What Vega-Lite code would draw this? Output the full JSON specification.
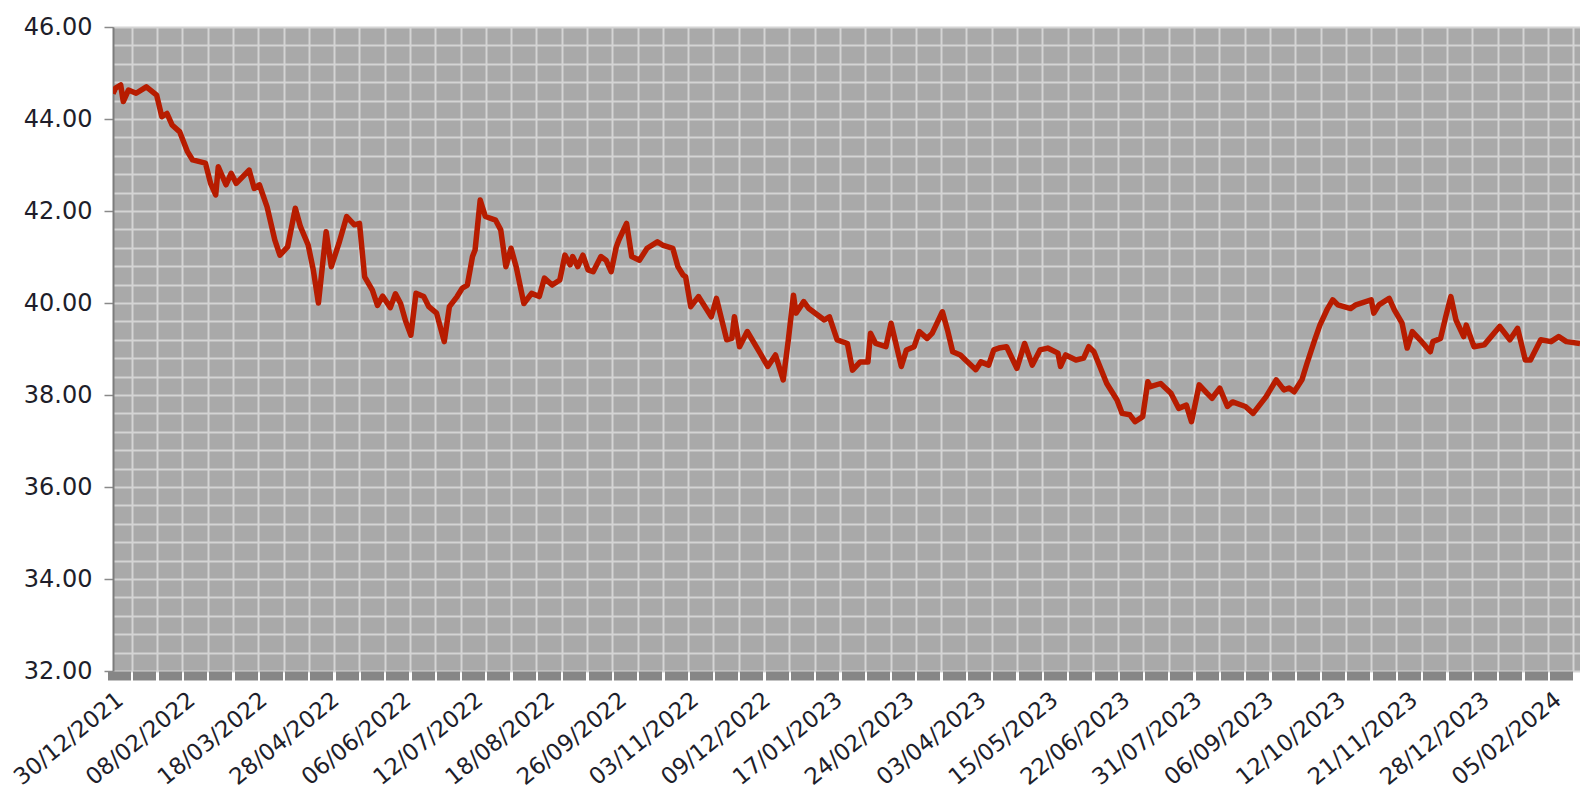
{
  "$schema": "https://vega.github.io/schema/vega-lite/v6.json",
  "width": 1467,
  "height": 644,
  "autosize": {"type": "none"},
  "padding": {"left": 113, "top": 27, "right": 0, "bottom": 124},
  "background": "#ffffff",
  "view": {"fill": "#a9a9a9", "stroke": null},
  "config": {
    "axis": {"labelFont": "DejaVu Sans", "labelFontSize": 24, "labelColor": "#1e1e2a", "title": null}
  },
  "data": {"values": [
    {"i":0,"v":44.55},{"i":1,"v":44.67},{"i":3,"v":44.74},{"i":4,"v":44.38},{"i":6,"v":44.63},{"i":9,"v":44.56},{"i":13,"v":44.7},{"i":17,"v":44.52},{"i":19,"v":44.05},{"i":21,"v":44.12},{"i":23,"v":43.87},{"i":26,"v":43.72},{"i":29,"v":43.29},{"i":31,"v":43.11},{"i":36,"v":43.04},{"i":38,"v":42.6},{"i":40,"v":42.35},{"i":41,"v":42.96},{"i":44,"v":42.57},{"i":46,"v":42.82},{"i":48,"v":42.6},{"i":53,"v":42.89},{"i":55,"v":42.49},{"i":57,"v":42.57},{"i":60,"v":42.09},{"i":63,"v":41.37},{"i":65,"v":41.04},{"i":68,"v":41.22},{"i":71,"v":42.06},{"i":73,"v":41.66},{"i":76,"v":41.26},{"i":78,"v":40.72},{"i":80,"v":40.0},{"i":83,"v":41.55},{"i":85,"v":40.79},{"i":88,"v":41.3},{"i":91,"v":41.88},{"i":94,"v":41.7},{"i":96,"v":41.73},{"i":98,"v":40.57},{"i":101,"v":40.28},{"i":103,"v":39.95},{"i":105,"v":40.15},{"i":108,"v":39.9},{"i":110,"v":40.2},{"i":112,"v":39.99},{"i":114,"v":39.6},{"i":116,"v":39.3},{"i":118,"v":40.21},{"i":121,"v":40.14},{"i":123,"v":39.92},{"i":126,"v":39.78},{"i":129,"v":39.16},{"i":131,"v":39.92},{"i":134,"v":40.14},{"i":136,"v":40.32},{"i":138,"v":40.39},{"i":140,"v":41.01},{"i":141,"v":41.15},{"i":143,"v":42.24},{"i":145,"v":41.88},{"i":149,"v":41.8},{"i":151,"v":41.59},{"i":153,"v":40.79},{"i":155,"v":41.19},{"i":157,"v":40.79},{"i":160,"v":39.99},{"i":163,"v":40.21},{"i":166,"v":40.14},{"i":168,"v":40.54},{"i":171,"v":40.39},{"i":174,"v":40.5},{"i":176,"v":41.04},{"i":178,"v":40.83},{"i":179,"v":41.01},{"i":181,"v":40.79},{"i":183,"v":41.04},{"i":185,"v":40.72},{"i":187,"v":40.68},{"i":190,"v":41.01},{"i":192,"v":40.93},{"i":194,"v":40.68},{"i":196,"v":41.22},{"i":197,"v":41.37},{"i":200,"v":41.73},{"i":202,"v":41.01},{"i":205,"v":40.93},{"i":208,"v":41.19},{"i":212,"v":41.33},{"i":214,"v":41.26},{"i":218,"v":41.19},{"i":220,"v":40.79},{"i":222,"v":40.61},{"i":223,"v":40.57},{"i":225,"v":39.92},{"i":228,"v":40.14},{"i":233,"v":39.7},{"i":235,"v":40.1},{"i":239,"v":39.2},{"i":241,"v":39.23},{"i":242,"v":39.7},{"i":244,"v":39.05},{"i":247,"v":39.38},{"i":252,"v":38.91},{"i":255,"v":38.62},{"i":258,"v":38.87},{"i":261,"v":38.33},{"i":263,"v":39.2},{"i":265,"v":40.17},{"i":266,"v":39.78},{"i":269,"v":40.03},{"i":271,"v":39.88},{"i":277,"v":39.63},{"i":279,"v":39.7},{"i":282,"v":39.2},{"i":286,"v":39.12},{"i":288,"v":38.54},{"i":291,"v":38.72},{"i":294,"v":38.72},{"i":295,"v":39.34},{"i":297,"v":39.12},{"i":301,"v":39.05},{"i":303,"v":39.56},{"i":307,"v":38.62},{"i":309,"v":38.98},{"i":312,"v":39.05},{"i":314,"v":39.38},{"i":317,"v":39.23},{"i":319,"v":39.34},{"i":323,"v":39.81},{"i":325,"v":39.41},{"i":327,"v":38.94},{"i":330,"v":38.87},{"i":332,"v":38.76},{"i":336,"v":38.55},{"i":338,"v":38.72},{"i":341,"v":38.65},{"i":343,"v":38.98},{"i":345,"v":39.02},{"i":348,"v":39.05},{"i":352,"v":38.58},{"i":355,"v":39.12},{"i":358,"v":38.65},{"i":361,"v":38.98},{"i":364,"v":39.02},{"i":368,"v":38.91},{"i":369,"v":38.62},{"i":371,"v":38.87},{"i":375,"v":38.76},{"i":378,"v":38.8},{"i":380,"v":39.05},{"i":382,"v":38.94},{"i":387,"v":38.25},{"i":391,"v":37.89},{"i":393,"v":37.6},{"i":396,"v":37.57},{"i":398,"v":37.42},{"i":401,"v":37.53},{"i":403,"v":38.29},{"i":404,"v":38.18},{"i":408,"v":38.25},{"i":412,"v":38.04},{"i":415,"v":37.71},{"i":418,"v":37.78},{"i":420,"v":37.42},{"i":423,"v":38.22},{"i":426,"v":38.04},{"i":428,"v":37.93},{"i":431,"v":38.15},{"i":434,"v":37.75},{"i":436,"v":37.85},{"i":441,"v":37.75},{"i":444,"v":37.6},{"i":449,"v":37.96},{"i":453,"v":38.33},{"i":456,"v":38.11},{"i":458,"v":38.15},{"i":460,"v":38.07},{"i":463,"v":38.33},{"i":465,"v":38.69},{"i":468,"v":39.2},{"i":470,"v":39.52},{"i":473,"v":39.88},{"i":475,"v":40.07},{"i":477,"v":39.96},{"i":482,"v":39.88},{"i":484,"v":39.96},{"i":490,"v":40.07},{"i":491,"v":39.78},{"i":493,"v":39.96},{"i":497,"v":40.1},{"i":499,"v":39.85},{"i":502,"v":39.56},{"i":504,"v":39.02},{"i":506,"v":39.38},{"i":509,"v":39.2},{"i":513,"v":38.94},{"i":514,"v":39.16},{"i":517,"v":39.23},{"i":519,"v":39.7},{"i":521,"v":40.14},{"i":523,"v":39.63},{"i":526,"v":39.27},{"i":527,"v":39.52},{"i":530,"v":39.05},{"i":534,"v":39.09},{"i":540,"v":39.49},{"i":544,"v":39.2},{"i":547,"v":39.45},{"i":550,"v":38.76},{"i":552,"v":38.76},{"i":556,"v":39.2},{"i":560,"v":39.16},{"i":563,"v":39.27},{"i":566,"v":39.16},{"i":571.3,"v":39.12}
  ]},
  "encoding": {
    "y": {
      "field": "v", "type": "quantitative",
      "scale": {"domain": [32, 46], "nice": false, "zero": false},
      "axis": {
        "values": [32,32.4,32.8,33.2,33.6,34,34.4,34.8,35.2,35.6,36,36.4,36.8,37.2,37.6,38,38.4,38.8,39.2,39.6,40,40.4,40.8,41.2,41.6,42,42.4,42.8,43.2,43.6,44,44.4,44.8,45.2,45.6,46],
        "labelExpr": "datum.value % 2 == 0 ? format(datum.value, '.2f') : ''",
        "labelPadding": 12,
        "labelOverlap": false,
        "labelBound": false,
        "labelFlush": false,
        "tickSize": 9,
        "tickColor": "#8a8a8a",
        "tickWidth": 1.5,
        "tickOpacity": {"condition": {"test": "datum.value % 2 == 0", "value": 1}, "value": 0},
        "domain": true,
        "domainColor": "#7c7c7c",
        "domainWidth": 2,
        "grid": true,
        "gridColor": "#d4d4d4",
        "gridWidth": 2,
        "gridOpacity": 1
      }
    }
  },
  "layer": [
    {
      "mark": {"type": "line", "strokeOpacity": 0},
      "encoding": {
        "x": {
          "field": "i", "type": "quantitative",
          "scale": {"domain": [0, 571.3], "nice": false, "zero": false},
          "axis": {
            "orient": "bottom",
            "values": [2.375,12.225,22.075,31.925,41.775,51.625,61.475,71.325,81.175,91.025,100.875,110.725,120.575,130.425,140.275,150.125,159.975,169.825,179.675,189.525,199.375,209.225,219.075,228.925,238.775,248.625,258.475,268.325,278.175,288.025,297.875,307.725,317.575,327.425,337.275,347.125,356.975,366.825,376.675,386.525,396.375,406.225,416.075,425.925,435.775,445.625,455.475,465.325,475.175,485.025,494.875,504.725,514.575,524.425,534.275,544.125,553.975,563.825,573.675],
            "labels": false,
            "grid": false,
            "domain": false,
            "ticks": true,
            "tickSize": 9,
            "tickWidth": 23,
            "tickCap": "butt",
            "tickColor": "#868686",
            "tickOpacity": 1
          }
        }
      }
    },
    {
      "mark": {"type": "line", "strokeOpacity": 0},
      "encoding": {
        "x": {
          "field": "i", "type": "quantitative",
          "scale": {"domain": [0, 571.3], "nice": false, "zero": false},
          "axis": {
            "orient": "bottom",
            "values": [7.3,17.15,27,36.85,46.7,56.55,66.4,76.25,86.1,95.95,105.8,115.65,125.5,135.35,145.2,155.05,164.9,174.75,184.6,194.45,204.3,214.15,224,233.85,243.7,253.55,263.4,273.25,283.1,292.95,302.8,312.65,322.5,332.35,342.2,352.05,361.9,371.75,381.6,391.45,401.3,411.15,421,430.85,440.7,450.55,460.4,470.25,480.1,489.95,499.8,509.65,519.5,529.35,539.2,549.05,558.9,568.75],
            "labels": false,
            "ticks": false,
            "domain": false,
            "grid": true,
            "gridColor": "#d4d4d4",
            "gridWidth": 2,
            "gridOpacity": 1
          }
        }
      }
    },
    {
      "mark": {"type": "line", "color": "#b71c00", "strokeWidth": 5.5, "strokeJoin": "round", "clip": true},
      "encoding": {
        "x": {
          "field": "i", "type": "quantitative",
          "scale": {"domain": [0, 571.3], "nice": false, "zero": false},
          "axis": {
            "orient": "bottom",
            "values": [0,28,56,84,112,140,168,196,224,252,280,308,336,364,392,420,448,476,504,532,560],
            "labelExpr": "['30/12/2021','08/02/2022','18/03/2022','28/04/2022','06/06/2022','12/07/2022','18/08/2022','26/09/2022','03/11/2022','09/12/2022','17/01/2023','24/02/2023','03/04/2023','15/05/2023','22/06/2023','31/07/2023','06/09/2023','12/10/2023','21/11/2023','28/12/2023','05/02/2024'][round(datum.value / 28)]",
            "labelAngle": -39,
            "labelAlign": "right",
            "labelBaseline": "top",
            "labelFontSize": 23,
            "labelPadding": 17,
            "labelOverlap": false,
            "labelFlush": false,
            "labelBound": false,
            "ticks": false,
            "domain": false,
            "grid": false
          }
        }
      }
    }
  ],
  "resolve": {"axis": {"x": "independent"}}
}
